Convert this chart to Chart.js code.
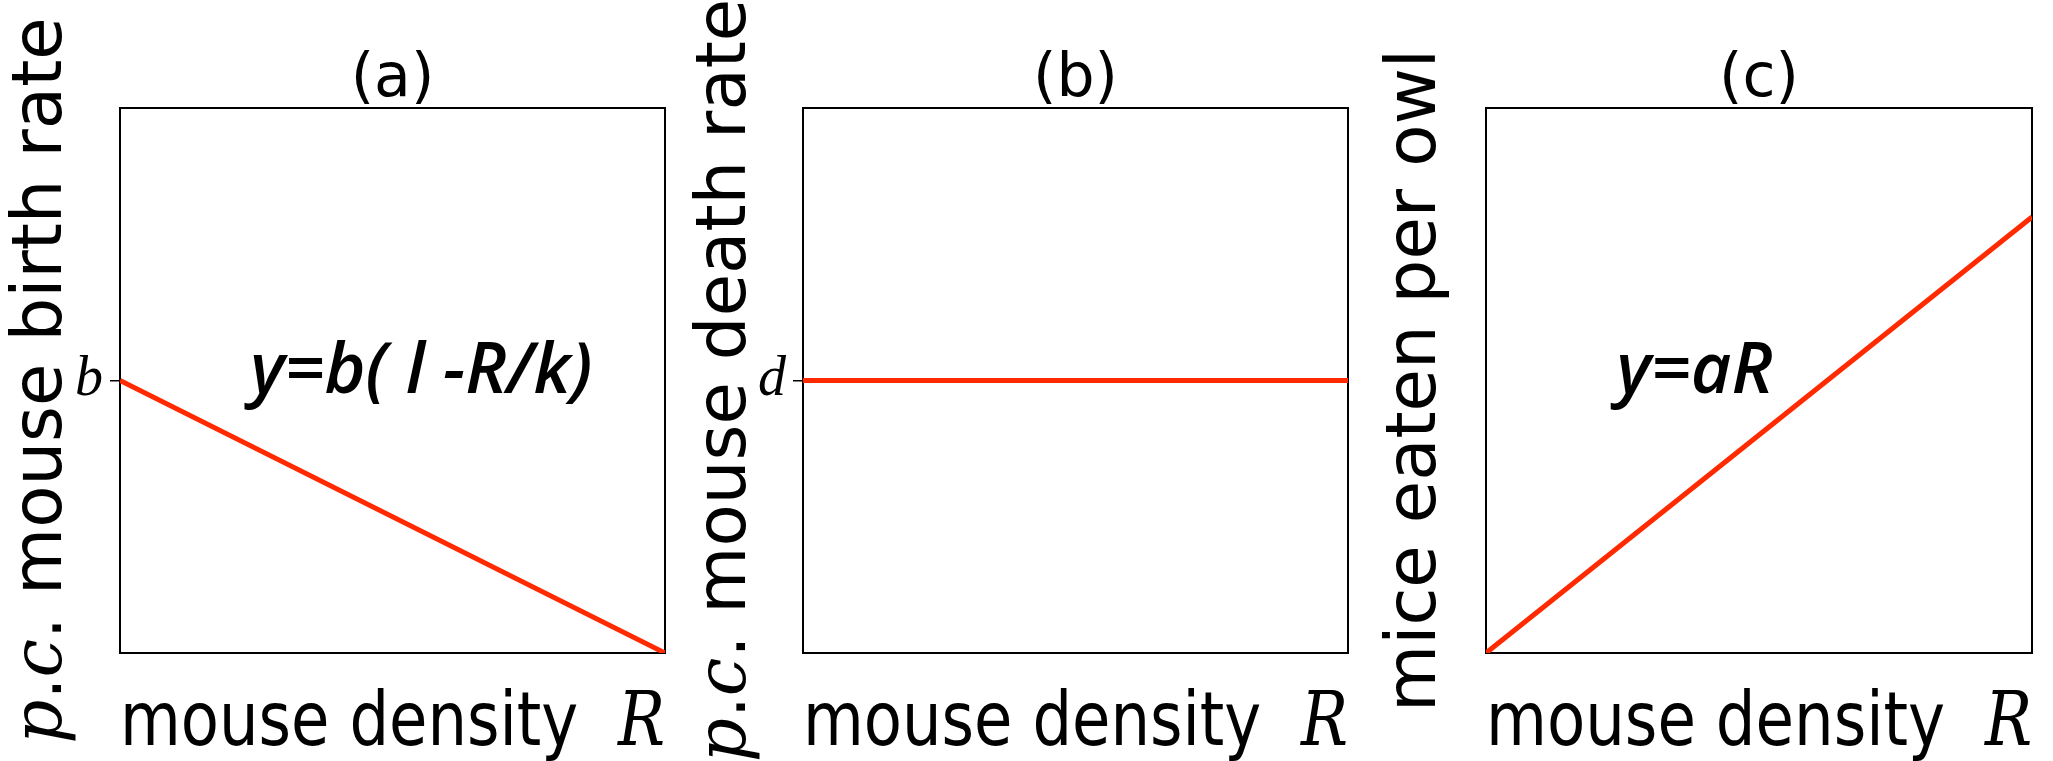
<!DOCTYPE html>
<html>
<head>
<meta charset="utf-8">
<script src="https://cdn.jsdelivr.net/npm/chart.js@4.4.1/dist/chart.umd.min.js"></script>
<style>
  body { margin: 0; background: #fff; width: 2053px; height: 761px; position: relative; overflow: hidden; }
  canvas { position: absolute; top: 0; }
</style>
</head>
<body>
<canvas id="chartA" width="690" height="761" style="left:0px"></canvas>
<canvas id="chartB" width="683" height="761" style="left:690px"></canvas>
<canvas id="chartC" width="680" height="761" style="left:1373px"></canvas>
<script>
// values (axes run 0..1, no numbers shown)
const densityR = [0, 1];
const birthRate = [0.5, 0];
const deathRate = [0.5, 0.5];
const miceEaten = [0, 0.8];

const panelTitles = ["(a)", "(b)", "(c)"];
const yLabels = ["𝑝.𝑐. mouse birth rate", "𝑝.𝑐. mouse death rate", "mice eaten per owl"];
const xLabel = "mouse density  𝑅";
const yTickValues = [[0.5], [0.5], []];
const yTickLabels = [["b"], ["d"], []];
const equations = ["y=b( l -R/k)", null, "y=aR"];

const labelFont = "'DejaVu Sans', 'DejaVu Serif', 'Liberation Serif'";

Chart.defaults.color = "#000";

// black box all round the plot area
const framePlugin = {
  id: "frame",
  beforeDatasetsDraw(chart) {
    const { ctx, chartArea: a } = chart;
    ctx.save();
    ctx.strokeStyle = "#000";
    ctx.lineWidth = 2;
    ctx.strokeRect(a.left, a.top, a.right - a.left, a.bottom - a.top);
    ctx.restore();
  },
};

// formula written inside the panel, placed in data coordinates
const equationPlugin = {
  id: "equation",
  afterDatasetsDraw(chart, args, opts) {
    if (!opts.text) return;
    const { ctx, scales } = chart;
    ctx.save();
    ctx.font = "italic 600 70px 'Open Sans'";
    ctx.fillStyle = "#000";
    ctx.textAlign = "left";
    ctx.textBaseline = "alphabetic";
    ctx.fillText(opts.text, scales.x.getPixelForValue(opts.x), scales.y.getPixelForValue(opts.y));
    ctx.restore();
  },
};

function makePanel(id, i, values, axisWidth, rightPad, titlePad) {
  const points = densityR.map((x, k) => ({ x, y: values[k] }));
  return new Chart(document.getElementById(id), {
    type: "scatter",
    data: {
      datasets: [
        {
          data: points,
          showLine: true,
          borderColor: "#ff2a00",
          borderWidth: 5,
          pointRadius: 0,
        },
      ],
    },
    options: {
      responsive: false,
      animation: false,
      layout: { padding: { top: 0, right: rightPad, bottom: 0, left: 0 } },
      plugins: {
        legend: { display: false },
        tooltip: { enabled: false },
        title: {
          display: true,
          fullSize: false,
          text: panelTitles[i],
          font: { family: "DejaVu Sans", size: 60, weight: "normal", lineHeight: 0.9 },
          padding: { top: 53, bottom: 1 },
        },
        equation: { text: equations[i], x: 0.239, y: 0.477 },
      },
      scales: {
        x: {
          type: "linear",
          min: 0,
          max: 1,
          ticks: { display: false },
          grid: { display: false },
          border: { display: false },
          title: {
            display: true,
            text: xLabel,
            font: { family: labelFont, size: 74, lineHeight: 0.95 },
            padding: { top: 0, bottom: 0 },
          },
          afterFit(scale) { scale.height = 108; },
        },
        y: {
          type: "linear",
          min: 0,
          max: 1,
          afterBuildTicks(scale) {
            scale.ticks = yTickValues[i].map((v) => ({ value: v }));
          },
          ticks: {
            padding: 7,
            font: { family: "Liberation Serif", style: "italic", size: 56 },
            callback: (v, idx) => yTickLabels[i][idx],
          },
          grid: { drawOnChartArea: false, drawTicks: true, tickLength: 10, color: "#000", lineWidth: 1.5 },
          border: { display: false },
          title: {
            display: true,
            text: yLabels[i],
            font: { family: labelFont, size: 69, lineHeight: 1 },
            padding: { top: titlePad, bottom: 0 },
          },
          afterFit(scale) { scale.width = axisWidth; },
        },
      },
    },
    plugins: [framePlugin, equationPlugin],
  });
}

makePanel("chartA", 0, birthRate, 120, 25, 8.5);
makePanel("chartB", 1, deathRate, 113, 25, 2.5);
makePanel("chartC", 2, miceEaten, 113, 21, 9.5);
</script>
</body>
</html>
